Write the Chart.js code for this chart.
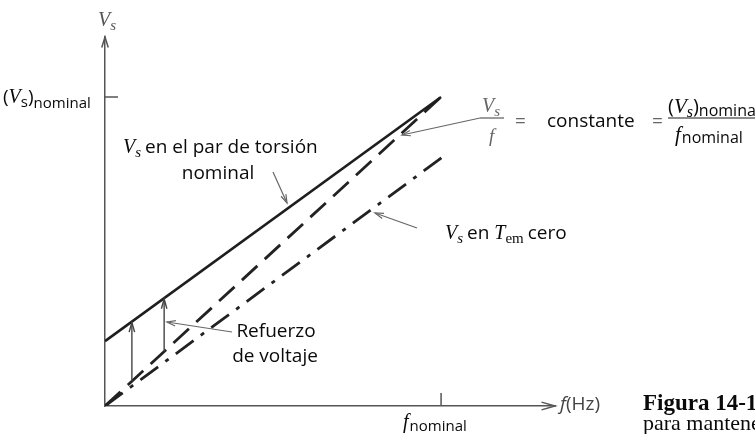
<!DOCTYPE html>
<html>
<head>
<meta charset="utf-8">
<script src="https://cdn.jsdelivr.net/npm/chart.js@4.4.0/dist/chart.umd.min.js"></script>
<style>
    body { margin: 0; background: #fff; }
</style>
</head>
<body>
<canvas id="myChart" width="755" height="434"></canvas>
<script>
// f en p.u. de f_nominal, Vs en p.u. de (Vs)nominal
const fLinea = [0, 1]
const vParNominal = [0.21, 1]
const vConstante = [0, 1]
const fCero = [0, 1.01]
const vCero = [0, 0.81]
const fRefuerzo = [0.08, 0.176]
const fMax = 1.339
const vMax = 1.194

const SANS = '"Open Sans"'
const SERIF = '"Liberation Serif"'

function pts(xs, ys) {
    return xs.map((x, i) => ({ x: x, y: ys[i] }))
}

function lineAt(xs, ys, x) {
    return ys[0] + (ys[1] - ys[0]) * (x - xs[0]) / (xs[1] - xs[0])
}

// texto con partes (cursivas, subindices)
function rich(ctx, parts, x, y, color) {
    let cx = x
    parts.forEach(p => {
        ctx.font = p.font
        ctx.fillStyle = p.color || color || '#0a0a0a'
        ctx.fillText(p.t, cx, y + (p.dy || 0))
        cx += ctx.measureText(p.t).width + (p.sp || 0)
    })
    return cx
}

function arrowHead(ctx, x1, y1, x2, y2, len, ang) {
    const a = Math.atan2(y2 - y1, x2 - x1)
    ctx.beginPath()
    ctx.moveTo(x2 - len * Math.cos(a - ang), y2 - len * Math.sin(a - ang))
    ctx.lineTo(x2, y2)
    ctx.lineTo(x2 - len * Math.cos(a + ang), y2 - len * Math.sin(a + ang))
    ctx.stroke()
}

function leader(ctx, x1, y1, x2, y2) {
    ctx.save()
    ctx.strokeStyle = '#666'
    ctx.lineWidth = 1.2
    ctx.beginPath()
    ctx.moveTo(x1, y1)
    ctx.lineTo(x2, y2)
    ctx.stroke()
    arrowHead(ctx, x1, y1, x2, y2, 9, 0.3)
    ctx.restore()
}

const vs = (size, subSize) => [
    { t: 'V', font: 'italic ' + size + 'px ' + SERIF },
    { t: 's', font: 'italic ' + subSize + 'px ' + SERIF, dy: 4, sp: 4 }
]

const anotaciones = {
    id: 'anotaciones',
    afterDraw(chart) {
        const ctx = chart.ctx
        const xs = chart.scales.x
        const ys = chart.scales.y
        const area = chart.chartArea
        const x0 = xs.getPixelForValue(0)
        const y0 = ys.getPixelForValue(0)

        ctx.save()
        ctx.strokeStyle = '#555'
        ctx.lineWidth = 1.5
        // flechas de los ejes
        arrowHead(ctx, x0, y0, x0, area.top, 11, 0.3)
        arrowHead(ctx, x0, y0, area.right, y0, 14, 0.28)
        // marcas nominales
        const xn = xs.getPixelForValue(1)
        const yn = ys.getPixelForValue(1)
        ctx.beginPath()
        ctx.moveTo(x0, yn)
        ctx.lineTo(x0 + 13, yn)
        ctx.moveTo(xn, y0)
        ctx.lineTo(xn, y0 - 13)
        ctx.stroke()

        // refuerzo de voltaje
        ctx.strokeStyle = '#444'
        ctx.lineWidth = 1.4
        fRefuerzo.forEach(f => {
            const px = xs.getPixelForValue(f)
            const pb = ys.getPixelForValue(lineAt(fLinea, vConstante, f))
            const pt = ys.getPixelForValue(lineAt(fLinea, vParNominal, f))
            ctx.beginPath()
            ctx.moveTo(px, pb)
            ctx.lineTo(px, pt + 1)
            ctx.stroke()
            arrowHead(ctx, px, pb, px, pt + 1, 10, 0.28)
        })
        ctx.restore()

        // lineas guia
        leader(ctx, 273, 172, 287, 203)
        leader(ctx, 232, 332, 167, 322)
        leader(ctx, 480, 118, 402, 135)
        leader(ctx, 417, 228, 375, 213)

        ctx.textBaseline = 'alphabetic'
        ctx.textAlign = 'left'

        // etiqueta eje V
        rich(ctx, vs(20, 15), 98, 26, '#555')

        // (Vs)nominal
        rich(ctx, [
            { t: '(', font: '19px ' + SANS },
            { t: 'V', font: 'italic 20px ' + SERIF },
            { t: 's', font: '15px ' + SANS, dy: 4 },
            { t: ')', font: '19px ' + SANS },
            { t: 'nominal', font: '15px ' + SANS, dy: 5 }
        ], 3, 103)

        // Vs en el par de torsion nominal
        rich(ctx, vs(20, 15).concat([{ t: 'en el par de torsión', font: '19px ' + SANS }]), 123, 153)
        ctx.font = '19px ' + SANS
        ctx.fillStyle = '#0a0a0a'
        ctx.textAlign = 'center'
        ctx.fillText('nominal', 218, 179)
        ctx.fillText('Refuerzo', 276, 337)
        ctx.fillText('de voltaje', 275, 362)
        ctx.textAlign = 'left'

        // Vs/f = constante = (Vs)nominal / fnominal
        rich(ctx, vs(20, 15), 482, 112, '#666')
        ctx.strokeStyle = '#666'
        ctx.lineWidth = 1.3
        ctx.beginPath()
        ctx.moveTo(480, 118)
        ctx.lineTo(504, 118)
        ctx.stroke()
        ctx.font = 'italic 19px ' + SERIF
        ctx.fillStyle = '#666'
        ctx.fillText('f', 489, 142)
        ctx.font = '19px ' + SANS
        ctx.fillText('=', 515, 127)
        ctx.fillText('=', 652, 127)
        ctx.fillStyle = '#0a0a0a'
        ctx.fillText('constante', 547, 127)
        rich(ctx, [
            { t: '(', font: '20px ' + SANS },
            { t: 'V', font: 'italic 21px ' + SERIF },
            { t: 's', font: 'italic 16px ' + SERIF, dy: 4 },
            { t: ')', font: '20px ' + SANS },
            { t: 'nominal', font: '16px ' + SANS, dy: 3 }
        ], 668, 113)
        ctx.strokeStyle = '#666'
        ctx.beginPath()
        ctx.moveTo(668, 118)
        ctx.lineTo(760, 118)
        ctx.stroke()
        rich(ctx, [
            { t: 'f', font: 'italic 21px ' + SERIF, sp: 1 },
            { t: 'nominal', font: '16px ' + SANS, dy: 2 }
        ], 675, 141)

        // Vs en Tem cero
        rich(ctx, vs(20, 15).concat([
            { t: 'en ', font: '19px ' + SANS },
            { t: 'T', font: 'italic 20px ' + SERIF },
            { t: 'em', font: '15px ' + SERIF, dy: 4, sp: 4 },
            { t: 'cero', font: '19px ' + SANS }
        ]), 445, 239)

        // eje f
        rich(ctx, [
            { t: 'f', font: 'italic 19px ' + SANS },
            { t: '(Hz)', font: '19px ' + SANS }
        ], 560, 410, '#444')
        rich(ctx, [
            { t: 'f', font: 'italic 20px ' + SERIF, sp: 1 },
            { t: 'nominal', font: '15px ' + SANS, dy: 3 }
        ], 403, 428)

        // pie de figura
        ctx.fillStyle = '#0a0a0a'
        ctx.font = 'bold 23px ' + SERIF
        ctx.fillText('Figura 14-1', 643, 410)
        ctx.font = '22px ' + SERIF
        ctx.fillText('para mantener', 643, 430)
    }
}

const data = {
    datasets: [
        {
            label: 'Vs en el par de torsión nominal',
            data: pts(fLinea, vParNominal),
            borderColor: '#1e1e1e',
            borderWidth: 2.6
        },
        {
            label: 'Vs/f = constante',
            data: pts(fLinea, vConstante),
            borderColor: '#222',
            borderWidth: 2.8,
            borderDash: [21, 10]
        },
        {
            label: 'Vs en Tem cero',
            data: pts(fCero, vCero),
            borderColor: '#222',
            borderWidth: 2.8,
            borderDash: [22, 9, 4, 9]
        }
    ]
}

const config = {
    type: 'scatter',
    data: data,
    options: {
        responsive: false,
        animation: false,
        showLine: true,
        layout: {
            padding: { left: 97, top: 37, right: 200, bottom: 20 }
        },
        elements: {
            point: { radius: 0 },
            line: { borderCapStyle: 'butt' }
        },
        scales: {
            x: {
                type: 'linear',
                min: 0,
                max: fMax,
                grid: { display: false },
                ticks: { display: false },
                border: { display: true, color: '#555', width: 1.5 }
            },
            y: {
                type: 'linear',
                min: 0,
                max: vMax,
                grid: { display: false },
                ticks: { display: false },
                border: { display: true, color: '#555', width: 1.5 }
            }
        },
        plugins: {
            legend: { display: false },
            tooltip: { enabled: false }
        }
    },
    plugins: [anotaciones]
}

const myChart = new Chart(document.getElementById('myChart'), config)
</script>
</body>
</html>
